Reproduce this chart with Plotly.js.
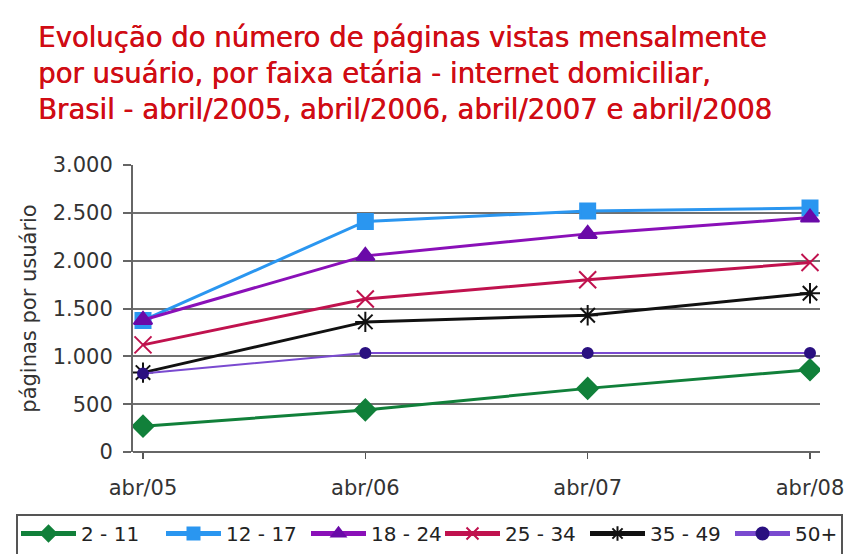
<!DOCTYPE html>
<html><head><meta charset="utf-8">
<script src="https://cdn.plot.ly/plotly-3.0.1.min.js"></script>
<style>html,body{margin:0;padding:0;background:#fff}#chart{width:849px;height:554px}</style>
</head><body><div id="chart"></div>
<script>
const categories = ["abr/05", "abr/06", "abr/07", "abr/08"];
const seriesNames = ["2 - 11", "12 - 17", "18 - 24", "25 - 34", "35 - 49", "50+"];
const v2_11  = [270, 440, 665, 860];
const v12_17 = [1375, 2410, 2520, 2550];
const v18_24 = [1380, 2050, 2280, 2450];
const v25_34 = [1120, 1600, 1800, 1980];
const v35_49 = [830, 1360, 1430, 1660];
const v50p   = [820, 1035, 1035, 1035];
const yTicks = [0, 500, 1000, 1500, 2000, 2500, 3000];
const titleText = 'Evolução do número de páginas vistas mensalmente<br>por usuário, por faixa etária - internet domiciliar,<br>Brasil - abril/2005, abril/2006, abril/2007 e abril/2008';

const values = [v2_11, v12_17, v18_24, v25_34, v35_49, v50p];
const styles = [
  {line:'#11803a', mk:'#11803a', sym:'diamond', size:16, lw:3, lg:'legend'},
  {line:'#2a96f0', mk:'#2a96f0', sym:'square', size:15, lw:3, lg:'legend'},
  {line:'#8a10b8', mk:'#6a0aa8', sym:'triangle-up', size:16, lw:3, lg:'legend'},
  {line:'#c0124e', mk:'#c0124e', sym:'x-thin-open', size:17, lw:3, lg:'legend2'},
  {line:'#111111', mk:'#111111', sym:'asterisk-open', size:17, lw:3, lg:'legend2'},
  {line:'#7a4ad0', mk:'#2a1080', sym:'circle', size:10, lw:2, lg:'legend2'}
];
const xs = categories.map((c,i)=>i);
const traces = values.map((v,i)=>({
  type:'scatter', mode:'lines+markers', name:seriesNames[i], legend:styles[i].lg,
  x: xs, y: v,
  line:{color:styles[i].line, width:styles[i].lw},
  marker:{symbol:styles[i].sym, size:styles[i].size, color:styles[i].mk,
          line:{color:styles[i].mk, width:2}}
}));

const tickFont = {family:'DejaVu Sans', size:21, color:'#333'};
const legendCommon = {
  orientation:'h', yanchor:'top', xanchor:'left', y:(452-514)/287,
  borderwidth:0, bgcolor:'rgba(0,0,0,0)',
  font:{family:'DejaVu Sans', size:20, color:'#222'},
  itemwidth:55, entrywidth:75, entrywidthmode:'pixels', itemsizing:'constant', tracegroupgap:0
};

const layout = {
  width:849, height:554,
  paper_bgcolor:'#ffffff', plot_bgcolor:'#ffffff',
  separators:',.',
  margin:{l:133, r:29, t:165, b:102, autoexpand:false},
  annotations:[{
    text:titleText, showarrow:false, align:'left',
    font:{family:'DejaVu Sans', size:27.5, color:'#d00c14', shadow:'0.5px 0 0 #d00c14'},
    xref:'paper', x:(36-133)/687, xanchor:'left',
    yref:'paper', y:1+(165-19)/287, yanchor:'top'
  }],
  shapes:[{
    type:'rect', xref:'paper', yref:'paper',
    x0:(17-133)/687, x1:(842-133)/687, y0:(452-515)/287, y1:(452-570)/287,
    line:{color:'#555', width:2}, fillcolor:'rgba(0,0,0,0)', layer:'above'
  }],
  xaxis:{
    type:'linear', range:[-0.045, 3.045],
    tickvals: xs, ticktext: categories,
    showgrid:false, zeroline:false, showline:false,
    ticks:'outside', ticklen:6, tickcolor:'#555', tickwidth:1.5,
    ticklabelstandoff:11,
    tickfont:tickFont,
    fixedrange:true, automargin:false
  },
  yaxis:{
    range:[0,3000], tickvals:yTicks, tickformat:',d',
    showgrid:true, gridcolor:'#707070', gridwidth:2,
    zeroline:true, zerolinecolor:'#666', zerolinewidth:2,
    showline:true, linecolor:'#666', linewidth:2,
    ticks:'outside', ticklen:8, tickcolor:'#666', tickwidth:2,
    ticklabelstandoff:6,
    tickfont:tickFont,
    title:{text:'páginas por usuário', font:{family:'DejaVu Sans', size:21, color:'#333'}, standoff:10},
    fixedrange:true, automargin:false
  },
  showlegend:true,
  legend:Object.assign({}, legendCommon, {x:(16-133)/687}),
  legend2:Object.assign({}, legendCommon, {x:(440-133)/687})
};
Plotly.newPlot('chart', traces, layout, {displayModeBar:false, staticPlot:true});
</script></body></html>
